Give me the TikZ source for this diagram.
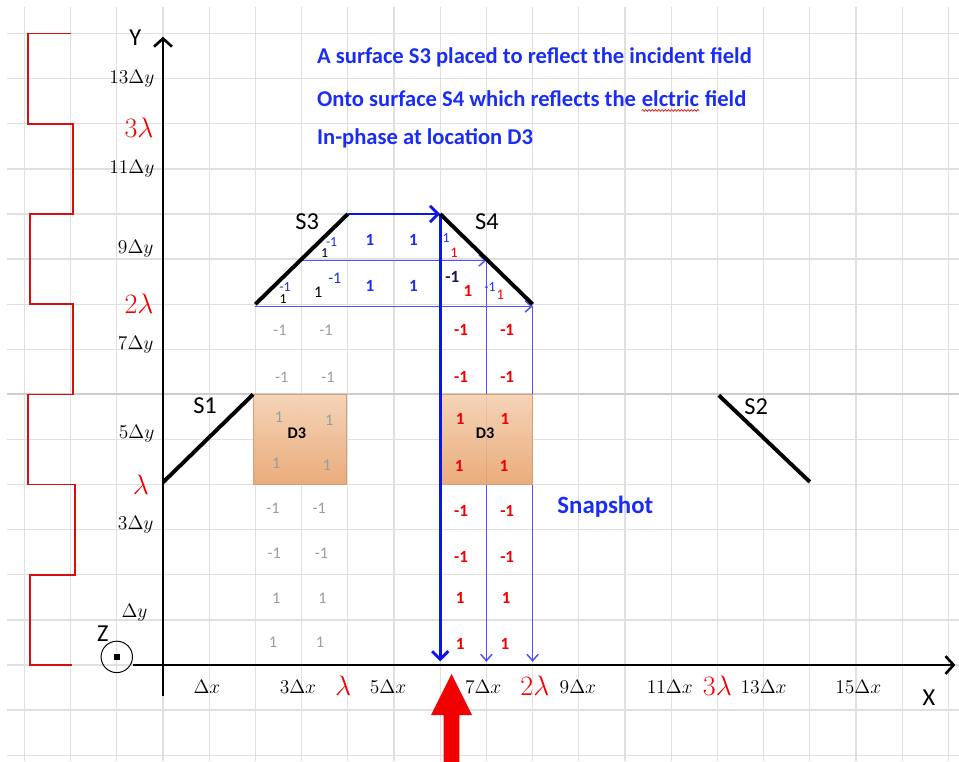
\documentclass[tikz,border=0pt]{standalone}
\usepackage{fontspec}
\setmainfont{Carlito}
\usetikzlibrary{arrows.meta,decorations.pathmorphing}
\newcommand\myfs[1]{\fontsize{#1}{#1}\selectfont}
\definecolor{gridc}{RGB}{224,224,224}
\definecolor{gridd}{RGB}{205,205,205}
\definecolor{tblue}{RGB}{25,45,245}
\definecolor{abl}{RGB}{10,20,235}
\definecolor{lbl}{RGB}{80,80,255}
\definecolor{rd}{RGB}{240,0,0}
\definecolor{wred}{RGB}{215,15,15}
\definecolor{gnum}{RGB}{150,158,158}
\definecolor{dnavy}{RGB}{20,20,90}
\definecolor{dtop}{RGB}{244,208,178}
\definecolor{dbot}{RGB}{232,165,112}
\definecolor{dedge}{RGB}{210,160,118}
\begin{document}
\begin{tikzpicture}[x=1cm,y=0.9762cm,
  gridline/.style={draw=gridc,line width=0.8pt},
  axisline/.style={line width=1.6pt,-{Straight Barb[length=5pt,width=11pt]}},
  surf/.style={line width=2.4pt},
  thickarr/.style={draw=abl,line width=1.8pt,-{Straight Barb[length=5pt,width=10pt]}},
  thinarr/.style={draw=lbl,line width=0.9pt,-{Straight Barb[length=4pt,width=7pt]}},
  wavel/.style={draw=wred,line width=1pt},
  dbox/.style={draw=dedge,line width=0.6pt,top color=dtop,bottom color=dbot,fill opacity=0.92,inner sep=0,minimum width=2.02cm,minimum height=1.952cm},
  ylab/.style={font=\myfs{12.5},anchor=east,inner sep=0},
  ylam/.style={font=\myfs{18},text=rd,anchor=east,inner sep=0},
  xlab/.style={font=\myfs{12.5},inner sep=0},
  xlam/.style={font=\myfs{18},text=rd,inner sep=0},
  slab/.style={font=\myfs{15},inner sep=0},
  ttl/.style={font=\myfs{13.9}\bfseries,text=tblue,anchor=base west,inner sep=0},
  bn/.style={font=\myfs{10.5}\bfseries,text=tblue,inner sep=0},
  sb/.style={font=\myfs{8.5},text=tblue,inner sep=0},
  sk/.style={font=\myfs{8.5},text=black,inner sep=0},
  sr/.style={font=\myfs{9},text=rd,inner sep=0},
  gn/.style={font=\myfs{10},text=gnum,inner sep=0},
  rn/.style={font=\myfs{10.5}\bfseries,text=rd,inner sep=0},
  dl/.style={font=\myfs{10}\bfseries,inner sep=0}
]
\useasboundingbox (-3.528,-2.129) rectangle (17.229,14.745);
% grid
\foreach \j in {-2,...,14} \draw[gridline] (-3.38,\j) -- (17.229,\j);
\foreach \i in {-3,...,17} \draw[gridline] (\i,-2.129) -- (\i,14.59);
\draw[draw=gridd,line width=1.2pt] (-3.38,6) -- (17.229,6);
% red square wave
\draw[wavel] (-2.0,14) -- (-2.92,14) -- (-2.92,12) -- (-1.95,12) -- (-1.95,10) -- (-2.88,10) -- (-2.88,8) -- (-1.95,8) -- (-1.95,6) -- (-2.92,6) -- (-2.92,4) -- (-1.9,4) -- (-1.9,2) -- (-2.88,2) -- (-2.88,0) -- (-1.97,0);
% coordinates
\coordinate (s1a) at (0,4.05); \coordinate (s1b) at (1.95,6);
\coordinate (s2a) at (12.03,5.98); \coordinate (s2b) at (14,4.06);
\coordinate (s3a) at (2,8); \coordinate (s3b) at (4,10);
\coordinate (s4a) at (6,10); \coordinate (s4b) at (8,8);
\coordinate (p9a) at (3,8.97); \coordinate (p9b) at (7,8.97);
\coordinate (p8a) at (2,7.95); \coordinate (p8b) at (8,7.95);
\coordinate (q6) at (6,0.08); \coordinate (q7) at (7,0.07); \coordinate (q8) at (8,0.07);
% thin blue rays
\draw[thinarr] (p9a) -- (p9b);
\draw[thinarr] (p9b) -- (q7);
\draw[thinarr] (p8a) -- (p8b);
\draw[thinarr] (p8b) -- (q8);
% D3 boxes
\node[dbox] (d3l) at (2.96,5) {};
\node[dbox] (d3r) at (6.985,5) {};
% thick blue ray
\draw[thickarr] (s3b) -- (s4a);
\draw[thickarr] (s4a) -- (q6);
% surfaces
\draw[surf] (s1a) -- (s1b);
\draw[surf] (s2a) -- (s2b);
\draw[surf] (s3a) -- (s3b);
\draw[surf] (s4a) -- (s4b);
\node[slab] (l1) at (0.91,5.76) {S1};
\node[slab] (l2) at (12.84,5.72) {S2};
\node[slab] (l3) at (3.12,9.82) {S3};
\node[slab] (l4) at (7.01,9.82) {S4};
% axes
\node[circle,draw,line width=0.6pt,minimum size=0.68cm,inner sep=0] (zc) at (-1,0.18) {};
\node[fill,inner sep=0,minimum size=3.8pt] (zd) at (zc.center) {};
\node[slab] (zl) at (-1.3,0.7) {Z};
\coordinate (ybot) at (0,-0.69); \coordinate (ytop) at (0,13.93);
\coordinate (xend) at (17.15,0);
\draw[axisline] (ybot) -- (ytop);
\draw[axisline] (zc.east |- xend) -- (xend);
\node[slab] (yl) at (-0.6,13.9) {Y};
\node[slab] (xl) at (16.58,-0.73) {X};
% y labels
\node[ylab] (y13) at (-0.18,13.0) {$13\Delta y$};
\node[ylam] (y3l) at (-0.2,11.92) {$3\lambda$};
\node[ylab] (y11) at (-0.18,11.0) {$11\Delta y$};
\node[ylab] (y9) at (-0.2,9.22) {$9\Delta y$};
\node[ylam] (y2l) at (-0.2,8.0) {$2\lambda$};
\node[ylab] (y7) at (-0.2,7.1) {$7\Delta y$};
\node[ylab] (y5) at (-0.18,5.13) {$5\Delta y$};
\node[ylam] (y1l) at (-0.3,4.0) {$\lambda$};
\node[ylab] (y3) at (-0.2,3.1) {$3\Delta y$};
\node[ylab] (y1) at (-0.33,1.17) {$\Delta y$};
% x labels
\node[xlab] (x1) at (0.95,-0.49) {$\Delta x$};
\node[xlab] (x3) at (2.92,-0.49) {$3\Delta x$};
\node[xlam] (x1l) at (3.9,-0.45) {$\lambda$};
\node[xlab] (x5) at (4.87,-0.49) {$5\Delta x$};
\node[xlab] (x7) at (6.93,-0.49) {$7\Delta x$};
\node[xlam] (x2l) at (8.05,-0.45) {$2\lambda$};
\node[xlab] (x9) at (8.98,-0.49) {$9\Delta x$};
\node[xlab] (x11) at (10.97,-0.49) {$11\Delta x$};
\node[xlam] (x3l) at (12.0,-0.45) {$3\lambda$};
\node[xlab] (x13) at (13.0,-0.49) {$13\Delta x$};
\node[xlab] (x15) at (15.05,-0.49) {$15\Delta x$};
% big red arrow
\fill[rd] (6.245,-0.2) -- (6.69,-1.11) -- (6.415,-1.11) -- (6.415,-2.2) -- (6.075,-2.2) -- (6.075,-1.11) -- (5.8,-1.11) -- cycle;
% title
\node[ttl] (t1) at (3.33,13.33) {A surface S3 placed to reflect the incident field};
\node[ttl] (t2a) at (3.33,12.39) {Onto surface S4 which reflects the};
\node[ttl] (t2b) at ([xshift=3.2pt]t2a.base east) {elctric};
\node[ttl] (t2c) at ([xshift=3.2pt]t2b.base east) {field};
\draw[draw=wred,line width=0.4pt,decorate,decoration={snake,amplitude=0.6pt,segment length=2pt}] ([yshift=-2.6pt]t2b.base west) -- ([yshift=-2.6pt]t2b.base east);
\node[ttl] (t3) at (3.33,11.53) {In-phase at location D3};
\node[ttl,font=\myfs{15.3}\bfseries] (snap) at (8.53,3.37) {Snapshot};
% numbers near S3 / S4
\node[sb] at (3.65,9.38) {-1};
\node[sk] at (3.5,9.13) {1};
\node[bn] at (4.48,9.42) {1};
\node[bn] at (5.42,9.42) {1};
\node[sb] at (6.13,9.47) {1};
\node[sr] at (6.3,9.15) {1};
\node[sb] at (2.64,8.38) {-1};
\node[sk] at (2.6,8.12) {1};
\node[sk,font=\myfs{10}] at (3.36,8.27) {1};
\node[sb,font=\myfs{10}] at (3.72,8.58) {-1};
\node[bn] at (4.48,8.4) {1};
\node[bn] at (5.42,8.4) {1};
\node[bn,text=dnavy] at (6.26,8.6) {-1};
\node[rn] at (6.6,8.3) {1};
\node[sb] at (7.08,8.38) {-1};
\node[sr] at (7.3,8.2) {1};
% gray column
\node[gn] at (2.53,7.43) {-1}; \node[gn] at (3.53,7.43) {-1};
\node[gn] at (2.57,6.39) {-1}; \node[gn] at (3.57,6.39) {-1};
\node[gn] at (2.51,5.5) {1};   \node[gn] at (3.6,5.43) {1};
\node[gn] at (2.45,4.48) {1};  \node[gn] at (3.55,4.43) {1};
\node[gn] at (2.38,3.48) {-1}; \node[gn] at (3.38,3.48) {-1};
\node[gn] at (2.41,2.48) {-1}; \node[gn] at (3.43,2.48) {-1};
\node[gn] at (2.45,1.49) {1};  \node[gn] at (3.45,1.49) {1};
\node[gn] at (2.38,0.51) {1};  \node[gn] at (3.4,0.51) {1};
% red column
\node[rn] at (6.45,7.43) {-1}; \node[rn] at (7.45,7.43) {-1};
\node[rn] at (6.45,6.39) {-1}; \node[rn] at (7.45,6.39) {-1};
\node[rn] at (6.43,5.45) {1};  \node[rn] at (7.4,5.45) {1};
\node[rn] at (6.41,4.41) {1};  \node[rn] at (7.38,4.41) {1};
\node[rn] at (6.45,3.41) {-1}; \node[rn] at (7.45,3.41) {-1};
\node[rn] at (6.45,2.4) {-1};  \node[rn] at (7.45,2.4) {-1};
\node[rn] at (6.43,1.49) {1};  \node[rn] at (7.43,1.49) {1};
\node[rn] at (6.43,0.47) {1};  \node[rn] at (7.4,0.47) {1};
\node[dl] (d3lt) at (2.9,5.14) {D3};
\node[dl] (d3rt) at (6.97,5.14) {D3};
\end{tikzpicture}
\end{document}
